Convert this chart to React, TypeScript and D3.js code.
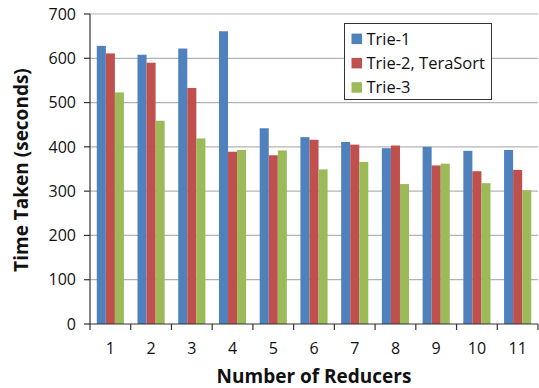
import React from "react";
import * as d3 from "d3";

const reducers = ["1", "2", "3", "4", "5", "6", "7", "8", "9", "10", "11"];
const seriesNames = ["Trie-1", "Trie-2, TeraSort", "Trie-3"];
const trie1 = [628, 608, 622, 661, 442, 422, 411, 397, 400, 391, 393];
const trie2 = [611, 590, 533, 389, 381, 416, 405, 403, 358, 345, 348];
const trie3 = [523, 459, 419, 393, 392, 349, 366, 316, 362, 318, 302];
const yTicks = [0, 100, 200, 300, 400, 500, 600, 700];
const colors = ["#4F81BD", "#C0504D", "#9BBB59"];

const W = 539;
const H = 388;
const margin = { left: 90, right: 1, top: 14, bottom: 64 };
const FONT = "'Open Sans', 'DejaVu Sans', sans-serif";

export default function App() {
  const series = [trie1, trie2, trie3];
  const x0 = d3
    .scaleBand<string>()
    .domain(reducers)
    .range([margin.left, W - margin.right])
    .paddingInner(1 / 3)
    .paddingOuter(1 / 6);
  const x1 = d3
    .scaleBand<string>()
    .domain(seriesNames)
    .range([0, x0.bandwidth()])
    .padding(0);
  const y = d3
    .scaleLinear()
    .domain([0, 700])
    .range([H - margin.bottom, margin.top]);

  const step = x0.step();
  const left = margin.left;
  const right = W - margin.right;
  const bottom = y(0);
  const boundaries = d3.range(reducers.length + 1).map((i) => left + i * step);

  return (
    <svg
      width={W}
      height={H}
      style={{ position: "absolute", left: 0, top: 0, background: "#fff" }}
      fontFamily={FONT}
    >
      {/* horizontal gridlines */}
      {yTicks.slice(1).map((t) => (
        <line
          key={"g" + t}
          x1={left}
          x2={right}
          y1={y(t)}
          y2={y(t)}
          stroke="#b3b3b3"
          strokeWidth={1.2}
        />
      ))}

      {/* bars */}
      {reducers.map((r, i) => (
        <g key={r} transform={`translate(${x0(r)},0)`}>
          {seriesNames.map((s, j) => (
            <rect
              key={s}
              x={x1(s)}
              y={y(series[j][i])}
              width={x1.bandwidth()}
              height={bottom - y(series[j][i])}
              fill={colors[j]}
            />
          ))}
        </g>
      ))}

      {/* axes */}
      <line x1={left} x2={left} y1={y(700)} y2={bottom} stroke="#333" strokeWidth={1.2} />
      <line x1={left} x2={right} y1={bottom} y2={bottom} stroke="#333" strokeWidth={1.2} />
      {yTicks.map((t) => (
        <g key={"y" + t}>
          <line x1={left - 6} x2={left} y1={y(t)} y2={y(t)} stroke="#333" strokeWidth={1.2} />
          <text
            x={left - 14}
            y={y(t)}
            dy="0.36em"
            textAnchor="end"
            fontSize={16}
            fill="#111"
          >
            {t}
          </text>
        </g>
      ))}
      {boundaries.map((bx, i) => (
        <line key={"t" + i} x1={bx} x2={bx} y1={bottom} y2={bottom + 6} stroke="#333" strokeWidth={1.2} />
      ))}
      {reducers.map((r) => (
        <text
          key={"x" + r}
          x={(x0(r) ?? 0) + x0.bandwidth() / 2}
          y={348}
          dy="0.36em"
          textAnchor="middle"
          fontSize={16}
          fill="#111"
        >
          {r}
        </text>
      ))}

      {/* axis titles */}
      <text
        x={(left + right) / 2}
        y={382.5}
        textAnchor="middle"
        fontSize={19}
        fontWeight="bold"
        fill="#111"
      >
        Number of Reducers
      </text>
      <text
        transform={`translate(21,170) rotate(-90)`}
        dy="0.36em"
        textAnchor="middle"
        fontSize={19}
        fontWeight="bold"
        fill="#111"
      >
        Time Taken (seconds)
      </text>

      {/* legend */}
      <rect x={344.5} y={23.5} width={147} height={76} fill="#fff" stroke="#333" strokeWidth={1} />
      {seriesNames.map((s, j) => (
        <g key={"l" + s} transform={`translate(351.5,${38.8 + j * 24.3})`}>
          <rect x={0} y={-5.2} width={10.5} height={10.5} fill={colors[j]} />
          <text x={15} y={0} dy="0.36em" fontSize={16.5} fill="#111">
            {s}
          </text>
        </g>
      ))}
    </svg>
  );
}
